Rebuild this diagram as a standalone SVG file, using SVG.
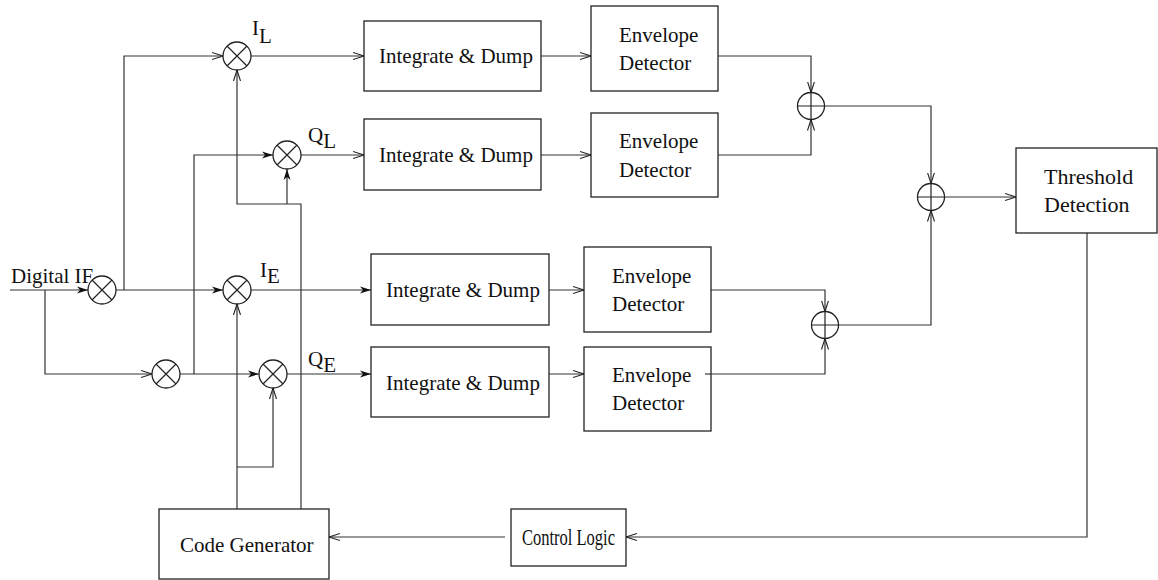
<svg xmlns="http://www.w3.org/2000/svg" width="1158" height="580" viewBox="0 0 1158 580">
<style>
.box{fill:#fff;stroke:#222;stroke-width:1.3}
.c{fill:#fff;stroke:#222;stroke-width:1.3}
.x{stroke:#222;stroke-width:1.2;fill:none}
.t{font-family:"Liberation Serif","Times New Roman",serif;font-size:21px;fill:#111}
.w{fill:none;stroke:#333;stroke-width:1.2}
.o{marker-end:url(#open)}
.f{marker-end:url(#fill)}
</style>
<defs>
<marker id="open" markerUnits="userSpaceOnUse" markerWidth="12" markerHeight="10" refX="11" refY="4" orient="auto" viewBox="0 0 12 8">
<path d="M0,0.5 L11,4 L0,7.5" fill="none" stroke="#222" stroke-width="1.1"/>
</marker>
<marker id="fill" markerUnits="userSpaceOnUse" markerWidth="12" markerHeight="10" refX="11" refY="4" orient="auto" viewBox="0 0 12 8">
<path d="M0,0.5 L11,4 L0,7.5 L3,4 z" fill="#111"/>
</marker>
</defs>
<rect width="1158" height="580" fill="#fff"/>
<g id="connectors">
<path class="w f" d="M10,290 H88"/>
<path class="w o" d="M45,290 V374 H152"/>
<path class="w f" d="M116,290 H223"/>
<path class="w o" d="M124,290 V56 H223"/>
<path class="w f" d="M180,374 H259"/>
<path class="w f" d="M194,374 V155 H273"/>
<path class="w o" d="M251,56 H364"/>
<path class="w o" d="M301,155 H364"/>
<path class="w f" d="M251,290 H371"/>
<path class="w f" d="M287,374 H371"/>
<path class="w o" d="M541,56 H591"/>
<path class="w o" d="M541,155 H591"/>
<path class="w o" d="M549,290 H584"/>
<path class="w o" d="M549,374 H584"/>
<path class="w o" d="M718,56 H811 V92.5"/>
<path class="w o" d="M718,155 H811 V119.5"/>
<path class="w o" d="M711,290 H825 V311.5"/>
<path class="w o" d="M705,374 H825 V338.5"/>
<path class="w o" d="M824.5,106 H931 V183.5"/>
<path class="w o" d="M838.5,325 H931 V210.5"/>
<path class="w o" d="M944.5,197 H1016"/>
<path class="w o" d="M1087,233 V537 H626"/>
<path class="w o" d="M505,537 H329"/>
<path class="w o" d="M301,509 V204 H237 V70"/>
<path class="w f" d="M287,204 V169"/>
<path class="w o" d="M237,509 V304"/>
<path class="w o" d="M237,467 H273 V388"/>
</g>
<g id="mixer_if"><circle class="c" cx="102" cy="290" r="14"/><path class="x" d="M92,280 L112,300 M112,280 L92,300"/></g>
<g id="mixer_q"><circle class="c" cx="166" cy="374" r="14"/><path class="x" d="M156,364 L176,384 M176,364 L156,384"/></g>
<g id="mixer_il"><circle class="c" cx="237" cy="56" r="14"/><path class="x" d="M227,46 L247,66 M247,46 L227,66"/></g>
<g id="mixer_ql"><circle class="c" cx="287" cy="155" r="14"/><path class="x" d="M277,145 L297,165 M297,145 L277,165"/></g>
<g id="mixer_ie"><circle class="c" cx="237" cy="290" r="14"/><path class="x" d="M227,280 L247,300 M247,280 L227,300"/></g>
<g id="mixer_qe"><circle class="c" cx="273" cy="374" r="14"/><path class="x" d="M263,364 L283,384 M283,364 L263,384"/></g>
<g id="sum1"><circle class="c" cx="811" cy="106" r="13.5"/><path class="x" d="M797.5,106 H824.5 M811,92.5 V119.5"/></g>
<g id="sum2"><circle class="c" cx="825" cy="325" r="13.5"/><path class="x" d="M811.5,325 H838.5 M825,311.5 V338.5"/></g>
<g id="sum3"><circle class="c" cx="931" cy="197" r="13.5"/><path class="x" d="M917.5,197 H944.5 M931,183.5 V210.5"/></g>
<g id="label_if"><text class="t" x="11" y="283">Digital IF</text></g>
<g id="label_il"><text class="t" x="252" y="35">I<tspan dy="8">L</tspan></text></g>
<g id="label_ql"><text class="t" x="308" y="142">Q<tspan dy="6">L</tspan></text></g>
<g id="label_ie"><text class="t" x="260" y="277">I<tspan dy="6">E</tspan></text></g>
<g id="label_qe"><text class="t" x="308" y="366">Q<tspan dy="6">E</tspan></text></g>
<g id="id1"><rect class="box" x="364" y="21" width="177" height="70"/><text class="t" x="379" y="63">Integrate &amp; Dump</text></g>
<g id="id2"><rect class="box" x="364" y="119" width="177" height="71"/><text class="t" x="379" y="162">Integrate &amp; Dump</text></g>
<g id="id3"><rect class="box" x="371" y="254" width="178" height="71"/><text class="t" x="386" y="297">Integrate &amp; Dump</text></g>
<g id="id4"><rect class="box" x="371" y="347" width="178" height="70"/><text class="t" x="386" y="390">Integrate &amp; Dump</text></g>
<g id="env1"><rect class="box" x="591" y="6" width="127" height="85"/><text class="t" x="619" y="42">Envelope</text><text class="t" x="619" y="70">Detector</text></g>
<g id="env2"><rect class="box" x="591" y="113" width="127" height="84"/><text class="t" x="619" y="148">Envelope</text><text class="t" x="619" y="177">Detector</text></g>
<g id="env3"><rect class="box" x="584" y="247" width="127" height="85"/><text class="t" x="612" y="283">Envelope</text><text class="t" x="612" y="311">Detector</text></g>
<g id="env4"><rect class="box" x="584" y="347" width="127" height="84"/><text class="t" x="612" y="382">Envelope</text><text class="t" x="612" y="410">Detector</text></g>
<g id="threshold"><rect class="box" x="1016" y="148" width="141" height="85"/><text class="t" x="1044" y="184" style="font-size:22px">Threshold</text><text class="t" x="1044" y="212" style="font-size:22px">Detection</text></g>
<g id="control"><rect class="box" x="511" y="509" width="115" height="57"/><text class="t" x="522" y="545" style="font-size:23px" textLength="93" lengthAdjust="spacingAndGlyphs">Control Logic</text></g>
<g id="codegen"><rect class="box" x="159" y="509" width="170" height="70"/><text class="t" x="180" y="552">Code Generator</text></g>
<path class="w" d="M705,374 H711"/>
</svg>
